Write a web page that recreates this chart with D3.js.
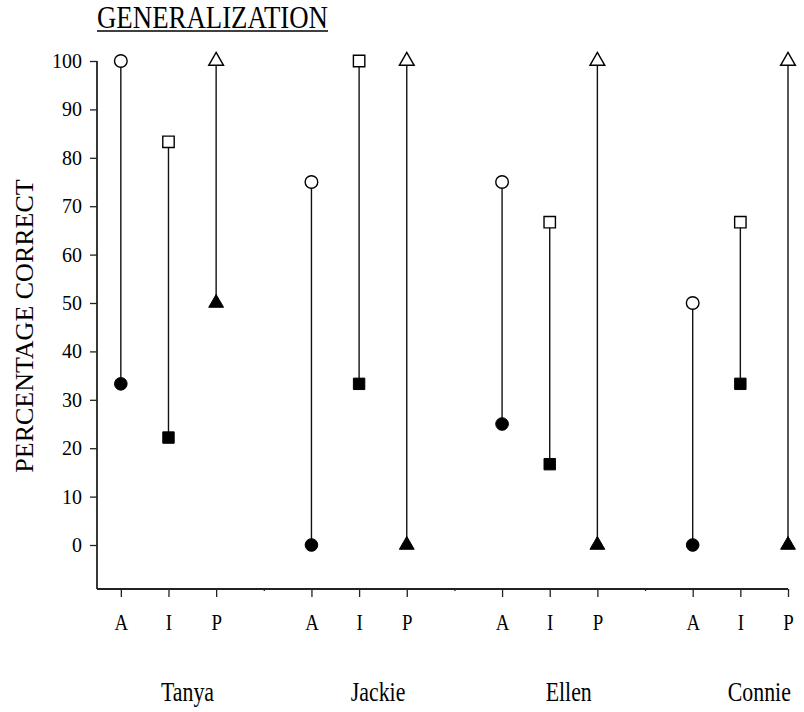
<!DOCTYPE html>
<html>
<head>
<meta charset="utf-8">
<script src="https://cdn.jsdelivr.net/npm/d3@7"></script>
<style>
  html, body { margin: 0; padding: 0; background: #fff; }
  svg { display: block; }
  text { font-family: "Liberation Serif", "Times New Roman", serif; fill: #000; }
</style>
</head>
<body>
<script>
// ---- data ----
const subjects = ["Tanya", "Jackie", "Ellen", "Connie"];
const conditions = ["A", "I", "P"];
// filled markers (lower)
const filledValues = [
  [33.3, 22.2, 50],
  [0, 33.3, 0],
  [25, 16.7, 0],
  [0, 33.3, 0]
];
// open markers (upper)
const openValues = [
  [100, 83.3, 100],
  [75, 100, 100],
  [75, 66.7, 100],
  [50, 66.7, 100]
];
const yTicks = [0, 10, 20, 30, 40, 50, 60, 70, 80, 90, 100];
const titleText = "GENERALIZATION";
const yLabelText = "PERCENTAGE CORRECT";

// ---- layout ----
const W = 804, H = 712;
const svg = d3.select("body").append("svg").attr("width", W).attr("height", H);

const slotsPerSubject = conditions.length + 1;
const nSlots = subjects.length * slotsPerSubject - 1;
const x = d3.scaleLinear().domain([-0.5, nSlots - 1]).range([97, 788]);
const y = d3.scaleLinear().domain([-9.09, 100]).range([589, 61]);

const slotLabel = i => (i % slotsPerSubject === conditions.length) ? "" : conditions[i % slotsPerSubject];

// ---- axes ----
const axisColor = "#222";
const yAxis = svg.append("g").attr("transform", `translate(${x(-0.5)},0)`)
  .call(d3.axisLeft(y).tickValues(yTicks).tickSizeOuter(0).tickSizeInner(7).tickPadding(8));
yAxis.select(".domain").attr("stroke", axisColor).attr("stroke-width", 1.8)
  .attr("d", `M0,${y(100)}V${y.range()[0]}`);
yAxis.selectAll(".tick line").attr("stroke", axisColor).attr("stroke-width", 1.3);
yAxis.selectAll(".tick text").style("font-size", "20px").attr("fill", "#000");

const xAxis = svg.append("g").attr("transform", `translate(0,${y.range()[0]})`)
  .call(d3.axisBottom(x).tickValues(d3.range(nSlots)).tickFormat(slotLabel)
        .tickSizeOuter(0).tickSizeInner(8).tickPadding(12));
xAxis.select(".domain").attr("stroke", axisColor).attr("stroke-width", 1.8)
  .attr("d", `M${x(-0.5)},0H${x(nSlots - 1)}`);
xAxis.selectAll(".tick line").attr("stroke", axisColor).attr("stroke-width", 1.3)
  .attr("y2", (d) => slotLabel(d) === "" ? 2 : 8);
xAxis.selectAll(".tick text")
  .style("font-size", "23px")
  .attr("dy", null)
  .attr("x", 0)
  .attr("y", 41)
  .attr("transform", "scale(0.82,1)");

// ---- markers ----
const g = svg.append("g");
const symbolFor = { A: d3.symbolCircle, I: d3.symbolSquare, P: d3.symbolTriangle };
const sizeFor = { A: 125, I: 130, P: 95 };

subjects.forEach((s, si) => {
  conditions.forEach((c, ci) => {
    const slot = si * slotsPerSubject + ci;
    const cx = x(slot);
    const lo = filledValues[si][ci];
    const hi = openValues[si][ci];
    g.append("line")
      .attr("x1", cx).attr("x2", cx)
      .attr("y1", y(lo)).attr("y2", y(hi))
      .attr("stroke", "#111").attr("stroke-width", 1.4);
    const sym = d3.symbol().type(symbolFor[c]).size(sizeFor[c]);
    g.append("path").attr("d", sym())
      .attr("transform", `translate(${cx},${y(lo)})`)
      .attr("fill", "#000").attr("stroke", "#000").attr("stroke-width", 1);
    g.append("path").attr("d", sym())
      .attr("transform", `translate(${cx},${y(hi)})`)
      .attr("fill", "#fff").attr("stroke", "#000").attr("stroke-width", 1.4);
  });
});

// ---- subject names ----
subjects.forEach((s, si) => {
  const cx = x(si * slotsPerSubject + 1) + 19;
  svg.append("g").attr("transform", `translate(${cx},701)`)
    .append("text")
    .attr("text-anchor", "middle")
    .attr("transform", "scale(0.78,1)")
    .style("font-size", "28px")
    .text(s);
});

// ---- title ----
const titleG = svg.append("g").attr("transform", `translate(${x(-0.5)},28)`);
const title = titleG.append("text")
  .style("font-size", "31px")
  .text(titleText);
const rawW = title.node().getComputedTextLength();
const targetW = 231;
title.attr("transform", `scale(${targetW / rawW},1)`);
titleG.append("line").attr("x1", 0).attr("x2", targetW).attr("y1", 3).attr("y2", 3)
  .attr("stroke", "#000").attr("stroke-width", 1.5);

// ---- y label ----
svg.append("text")
  .attr("transform", `translate(33,${(y(100) + y.range()[0]) / 2 + 1}) rotate(-90)`)
  .attr("text-anchor", "middle")
  .style("font-size", "26px")
  .text(yLabelText);
</script>
</body>
</html>
